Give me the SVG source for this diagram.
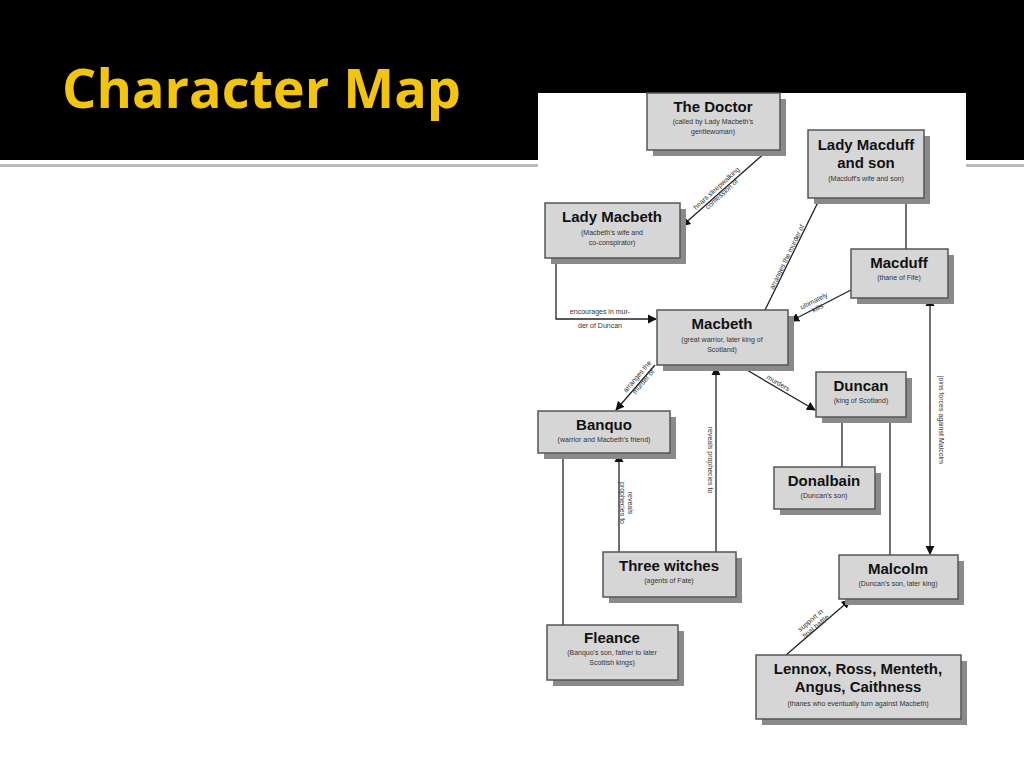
<svg xmlns="http://www.w3.org/2000/svg" width="1024" height="768" viewBox="0 0 1024 768">
<style>
.t{font-family:"Liberation Sans Narrow","Liberation Sans",Arial,sans-serif;font-weight:bold;font-size:15px;fill:#111;text-anchor:middle}
.s{font-family:"Liberation Sans",Arial,sans-serif;font-size:7px;fill:#333;text-anchor:middle}
.l{font-family:"Liberation Sans",Arial,sans-serif;font-size:7px;fill:#333;text-anchor:middle}
.b{fill:#d6d6d6;stroke:#555;stroke-width:1.5}
.sh{fill:#8a8a8a}
.c line,.c path{stroke:#222;stroke-width:1.3;fill:none}
</style>
<defs><marker id="a" viewBox="0 0 10 10" refX="9" refY="5" markerWidth="7" markerHeight="7" orient="auto-start-reverse"><path d="M0,0L10,5L0,10z" fill="#111"/></marker></defs>
<rect width="1024" height="768" fill="#fff"/>
<rect width="1024" height="160" fill="#000"/>
<rect x="0" y="164" width="1024" height="3" fill="#bbb"/>
<text x="62" y="108" font-family="Open Sans,Liberation Sans,sans-serif" font-weight="bold" font-size="54" fill="#f2c40f">Character Map</text>
<rect x="538" y="93" width="428" height="633" fill="#fff"/>
<g class="c">
<line x1="768" y1="150" x2="682" y2="226" marker-end="url(#a)"/>
<path d="M556,258V319H656" marker-end="url(#a)"/>
<line x1="765" y1="310" x2="822" y2="194" marker-end="url(#a)"/>
<line x1="851" y1="290" x2="791" y2="321" marker-end="url(#a)"/>
<line x1="906" y1="198" x2="906" y2="249"/>
<line x1="930" y1="298" x2="930" y2="554" marker-start="url(#a)" marker-end="url(#a)"/>
<line x1="655" y1="365" x2="616" y2="410" marker-end="url(#a)"/>
<line x1="740" y1="366" x2="815" y2="410" marker-end="url(#a)"/>
<line x1="716" y1="552" x2="716" y2="367" marker-end="url(#a)"/>
<line x1="619" y1="552" x2="619" y2="454" marker-end="url(#a)"/>
<line x1="563" y1="453" x2="563" y2="625"/>
<line x1="842" y1="417" x2="842" y2="467" stroke="#888"/>
<line x1="890" y1="417" x2="890" y2="555"/>
<line x1="786" y1="655" x2="850" y2="600" marker-end="url(#a)"/>
<text class="l" transform="translate(718,190) rotate(-42)">hears sleepwalking<tspan x="0" dy="8">confession of</tspan></text>
<text class="l" x="600" y="314">encourages in mur-</text><text class="l" x="600" y="328">der of Duncan</text>
<text class="l" transform="translate(789,258) rotate(-64)">arranges the murder of</text>
<text class="l" transform="translate(815,303) rotate(-27)">ultimately<tspan x="0" dy="8">kills</tspan></text>
<text class="l" transform="translate(639,378) rotate(-50)">arranges the<tspan x="0" dy="8">murder of</tspan></text>
<text class="l" transform="translate(777,385) rotate(30)">murders</text>
<text class="l" transform="translate(708,460) rotate(90)">reveals prophecies to</text>
<text class="l" transform="translate(628,503) rotate(90)">reveals<tspan x="0" dy="8">prophecies to</tspan></text>
<text class="l" transform="translate(939,420) rotate(90)">joins forces against Malcolm</text>
<text class="l" transform="translate(812,622) rotate(-40)">support in<tspan x="0" dy="8">final battle</tspan></text>
</g>
<g id="doctor"><rect class="sh" x="653" y="99" width="133" height="57"/><rect class="b" x="647" y="93" width="133" height="57"/><text class="t" x="713" y="112">The Doctor</text><text class="s" x="713" y="124">(called by Lady Macbeth's</text><text class="s" x="713" y="134">gentlewoman)</text></g>
<g id="ladymacduff"><rect class="sh" x="814" y="136" width="116" height="68"/><rect class="b" x="808" y="130" width="116" height="68"/><text class="t" x="866" y="150">Lady Macduff</text><text class="t" x="866" y="168">and son</text><text class="s" x="866" y="181">(Macduff's wife and son)</text></g>
<g id="ladymacbeth"><rect class="sh" x="551" y="209" width="135" height="55"/><rect class="b" x="545" y="203" width="135" height="55"/><text class="t" x="612" y="222">Lady Macbeth</text><text class="s" x="612" y="235">(Macbeth's wife and</text><text class="s" x="612" y="245">co-conspirator)</text></g>
<g id="macduff"><rect class="sh" x="857" y="255" width="97" height="49"/><rect class="b" x="851" y="249" width="97" height="49"/><text class="t" x="899" y="268">Macduff</text><text class="s" x="899" y="280">(thane of Fife)</text></g>
<g id="macbeth"><rect class="sh" x="663" y="316" width="131" height="55"/><rect class="b" x="657" y="310" width="131" height="55"/><text class="t" x="722" y="329">Macbeth</text><text class="s" x="722" y="342">(great warrior, later king of</text><text class="s" x="722" y="352">Scotland)</text></g>
<g id="duncan"><rect class="sh" x="822" y="378" width="90" height="45"/><rect class="b" x="816" y="372" width="90" height="45"/><text class="t" x="861" y="391">Duncan</text><text class="s" x="861" y="403">(king of Scotland)</text></g>
<g id="banquo"><rect class="sh" x="544" y="417" width="132" height="42"/><rect class="b" x="538" y="411" width="132" height="42"/><text class="t" x="604" y="430">Banquo</text><text class="s" x="604" y="442">(warrior and Macbeth's friend)</text></g>
<g id="donalbain"><rect class="sh" x="780" y="473" width="101" height="42"/><rect class="b" x="774" y="467" width="101" height="42"/><text class="t" x="824" y="486">Donalbain</text><text class="s" x="824" y="498">(Duncan's son)</text></g>
<g id="witches"><rect class="sh" x="609" y="558" width="133" height="45"/><rect class="b" x="603" y="552" width="133" height="45"/><text class="t" x="669" y="571">Three witches</text><text class="s" x="669" y="583">(agents of Fate)</text></g>
<g id="malcolm"><rect class="sh" x="845" y="561" width="119" height="44"/><rect class="b" x="839" y="555" width="119" height="44"/><text class="t" x="898" y="574">Malcolm</text><text class="s" x="898" y="586">(Duncan's son, later king)</text></g>
<g id="fleance"><rect class="sh" x="553" y="631" width="131" height="55"/><rect class="b" x="547" y="625" width="131" height="55"/><text class="t" x="612" y="643">Fleance</text><text class="s" x="612" y="655">(Banquo's son, father to later</text><text class="s" x="612" y="665">Scottish kings)</text></g>
<g id="lennox"><rect class="sh" x="762" y="661" width="205" height="64"/><rect class="b" x="756" y="655" width="205" height="64"/><text class="t" x="858" y="674">Lennox, Ross, Menteth,</text><text class="t" x="858" y="692">Angus, Caithness</text><text class="s" x="858" y="706">(thanes who eventually turn against Macbeth)</text></g>
</svg>
